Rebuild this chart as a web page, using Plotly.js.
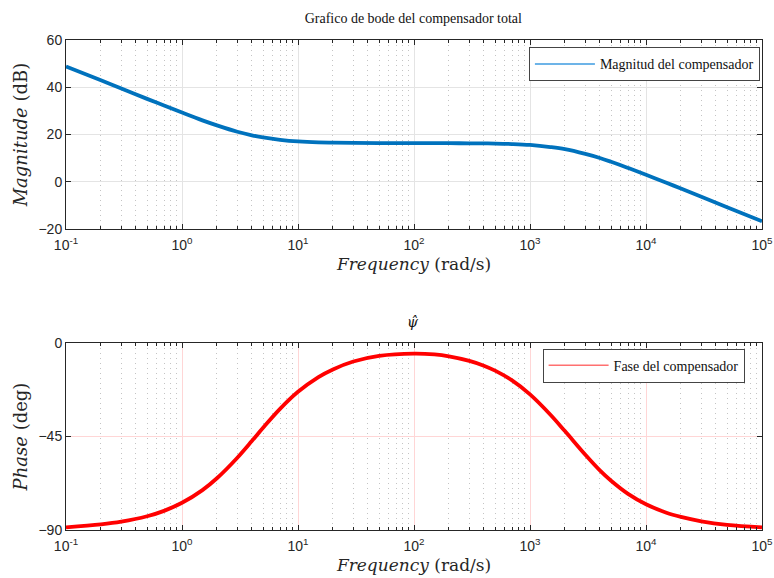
<!DOCTYPE html>
<html>
<head>
<meta charset="utf-8">
<script src="https://cdn.plot.ly/plotly-3.0.1.min.js"></script>
<style>html,body{margin:0;padding:0;background:#fff;}#chart{width:774px;height:578px;}</style>
</head>
<body>
<div id="chart"></div>
<script>
const freq = [0.1, 0.2, 0.3, 0.5, 0.7, 1, 1.5, 2, 3, 4, 5, 7, 10, 15, 20, 30, 50, 100, 150, 200, 300, 400, 500, 700, 1000, 1500, 2000, 3000, 4000, 5000, 7000, 10000, 15000, 20000, 30000, 50000, 100000];
// Magnitude (dB)
const magnitude = [48.8, 43.0, 39.5, 35.1, 32.3, 29.3, 26.0, 23.9, 21.2, 19.7, 18.8, 17.8, 17.1, 16.7, 16.6, 16.5, 16.4, 16.4, 16.38, 16.35, 16.3, 16.25, 16.2, 16.0, 15.6, 14.7, 13.8, 11.8, 10.1, 8.5, 5.9, 3.0, -0.4, -2.8, -6.3, -10.7, -16.7];
// Phase (deg)
const phase = [-88.7, -87.3, -86.0, -83.4, -80.8, -76.9, -70.8, -65.1, -55.2, -47.2, -40.8, -31.7, -23.5, -16.4, -12.7, -8.9, -6.2, -5.1, -5.5, -6.4, -8.6, -10.9, -13.3, -18.0, -24.7, -34.5, -42.4, -53.8, -61.3, -66.3, -72.6, -77.6, -81.7, -83.7, -85.8, -87.5, -88.7];

const tickVals = [0.1, 1, 10, 100, 1000, 10000, 100000];
const tickText = ['10<sup>-1</sup>', '10<sup>0</sup>', '10<sup>1</sup>', '10<sup>2</sup>', '10<sup>3</sup>', '10<sup>4</sup>', '10<sup>5</sup>'];
const magTicks = [-20, 0, 20, 40, 60];
const phaseTicks = [-90, -45, 0];

const serif = '"Liberation Serif", "DejaVu Serif", serif';
const mathSerif = '"DejaVu Serif", "Liberation Serif", serif';
const sans = '"Liberation Sans", Arial, sans-serif';
const axisColor = '#262626';

function xaxisCfg(anchor, gridColor) {
  return {
    type: 'log', range: [-1, 5], anchor: anchor,
    tickvals: tickVals, ticktext: tickText,
    ticks: 'inside', ticklen: 5, tickcolor: axisColor,
    showline: true, linecolor: axisColor, linewidth: 1, mirror: 'ticks',
    showgrid: true, gridcolor: gridColor, gridwidth: 1,
    zeroline: false, ticklabelstandoff: 3,
    minor: {dtick: 'D1', ticks: 'inside', ticklen: 3, tickcolor: axisColor, showgrid: true, gridcolor: '#c4c4c4', griddash: '1px,4px', gridwidth: 1},
    tickfont: {family: sans, size: 14, color: axisColor},
    title: {text: '<i>Frequency</i> (rad/s)', font: {family: mathSerif, size: 17, color: axisColor}, standoff: 6}
  };
}

const traces = [
  {x: freq, y: magnitude, type: 'scatter', mode: 'lines', name: 'Magnitud del compensador', showlegend: false,
   line: {color: '#0072BD', width: 3.8, shape: 'spline', smoothing: 1}, xaxis: 'x', yaxis: 'y'},
  {x: freq, y: phase, type: 'scatter', mode: 'lines', name: 'Fase del compensador', showlegend: false,
   line: {color: '#FF0000', width: 3.8, shape: 'spline', smoothing: 1}, xaxis: 'x2', yaxis: 'y2'},
  // legend entries (thin sample lines, as in the reference legend)
  {x: [null], y: [null], type: 'scatter', mode: 'lines', name: 'Magnitud del compensador',
   line: {color: '#3d9be0', width: 1.5}, xaxis: 'x', yaxis: 'y', legend: 'legend'},
  {x: [null], y: [null], type: 'scatter', mode: 'lines', name: 'Fase del compensador',
   line: {color: '#ff7070', width: 1.5}, xaxis: 'x2', yaxis: 'y2', legend: 'legend2'}
];

const layout = {
  width: 774, height: 578,
  margin: {l: 66, r: 12, t: 40, b: 48},
  paper_bgcolor: '#fff', plot_bgcolor: '#fff',
  showlegend: true,
  title: {text: 'Grafico de bode del compensador total', font: {family: serif, size: 14, color: '#111'}, x: 0.534, xanchor: 'center', y: 0.968, yanchor: 'middle'},
  xaxis: xaxisCfg('y', '#e4e4e4'),
  yaxis: {
    domain: [0.614, 1], range: [-20, 60], tickvals: magTicks,
    ticks: 'inside', ticklen: 5, tickcolor: axisColor,
    showline: true, linecolor: axisColor, linewidth: 1, mirror: 'ticks',
    showgrid: true, gridcolor: '#e4e4e4', zeroline: false,
    tickfont: {family: sans, size: 14, color: axisColor},
    title: {text: '<i>Magnitude</i> (dB)', font: {family: mathSerif, size: 18, color: axisColor}, standoff: 6}
  },
  xaxis2: xaxisCfg('y2', '#ffd6d6'),
  yaxis2: {
    domain: [0, 0.3816], range: [-90, 0], tickvals: phaseTicks,
    ticks: 'inside', ticklen: 5, tickcolor: axisColor,
    showline: true, linecolor: axisColor, linewidth: 1, mirror: 'ticks',
    showgrid: true, gridcolor: '#ffd6d6', zeroline: false,
    tickfont: {family: sans, size: 14, color: axisColor},
    title: {text: '<i>Phase</i> (deg)', font: {family: mathSerif, size: 18, color: axisColor}, standoff: 6}
  },
  legend: {x: 0.997, xanchor: 'right', y: 0.985, yanchor: 'top',
    bgcolor: '#fff', bordercolor: '#444', borderwidth: 1,
    font: {family: serif, size: 14, color: '#111'}, itemwidth: 60},
  legend2: {x: 0.975, xanchor: 'right', y: 0.37, yanchor: 'top',
    bgcolor: '#fff', bordercolor: '#444', borderwidth: 1,
    font: {family: serif, size: 14, color: '#111'}, itemwidth: 60},
  annotations: [
    {text: '<i>\u03C8\u0302</i>', xref: 'paper', yref: 'paper', x: 0.498, y: 0.405, xanchor: 'center', yanchor: 'bottom',
     showarrow: false, font: {family: mathSerif, size: 14, color: '#111'}}
  ]
};

Plotly.newPlot('chart', traces, layout, {displayModeBar: false, staticPlot: true});
</script>
</body>
</html>
